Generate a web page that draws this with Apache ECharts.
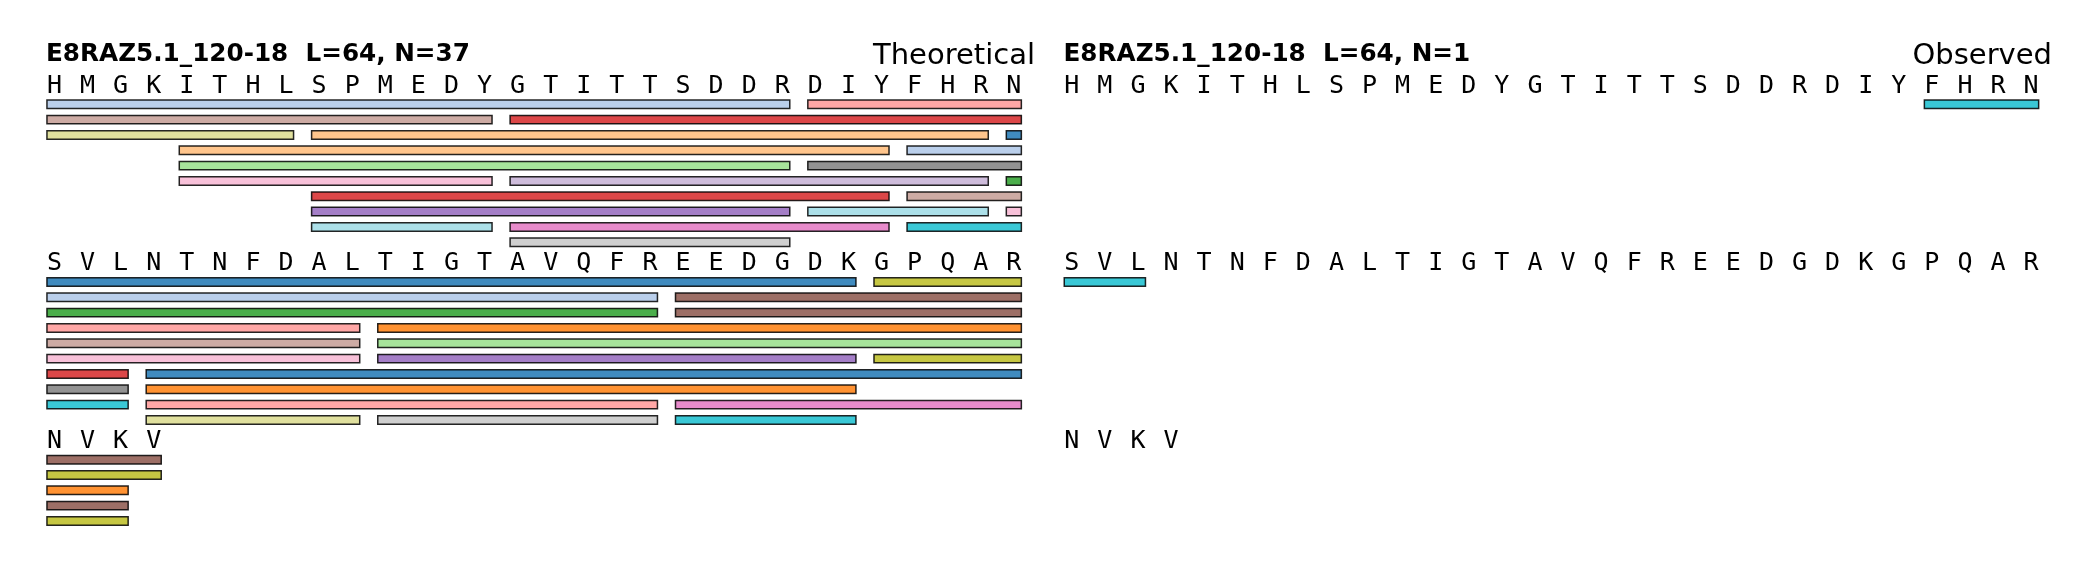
<!DOCTYPE html>
<html><head><meta charset="utf-8">
<script src="https://cdn.jsdelivr.net/npm/echarts@6/dist/echarts.min.js"></script>
<style>html,body{margin:0;padding:0;background:#fff}#c{width:2100px;height:584px}</style>
</head><body><div id="c"></div>
<script>
// ---------------- data ----------------
const proteinId = "E8RAZ5.1_120-18";
const sequence = "HMGKITHLSPMEDYGTITTSDDRDIYFHRNSVLNTNFDALTIGTAVQFREEDGDKGPQARNVKV".split('');
const lineLength = 30;
const panelTitles = ["Theoretical", "Observed"];
const peptideCounts = [37, 1];

// segments: [line, row, firstResidueInLine, lastResidueInLine]
const theoSegments = [
  [0,0,0,22],[0,0,23,29],
  [0,1,0,13],[0,1,14,29],
  [0,2,0,7],[0,2,8,28],[0,2,29,29],
  [0,3,4,25],[0,3,26,29],
  [0,4,4,22],[0,4,23,29],
  [0,5,4,13],[0,5,14,28],[0,5,29,29],
  [0,6,8,25],[0,6,26,29],
  [0,7,8,22],[0,7,23,28],[0,7,29,29],
  [0,8,8,13],[0,8,14,25],[0,8,26,29],
  [0,9,14,22],
  [1,0,0,24],[1,0,25,29],
  [1,1,0,18],[1,1,19,29],
  [1,2,0,18],[1,2,19,29],
  [1,3,0,9],[1,3,10,29],
  [1,4,0,9],[1,4,10,29],
  [1,5,0,9],[1,5,10,24],[1,5,25,29],
  [1,6,0,2],[1,6,3,29],
  [1,7,0,2],[1,7,3,24],
  [1,8,0,2],[1,8,3,18],[1,8,19,29],
  [1,9,3,9],[1,9,10,18],[1,9,19,24],
  [2,0,0,3],[2,1,0,3],[2,2,0,2],[2,3,0,2],[2,4,0,2]
];
const theoColors = [
  'lightblue','salmon',
  'tan','red',
  'khaki','peach','blue',
  'peach','lightblue',
  'lightgreen','gray',
  'lightpink','lavender','green',
  'red','tan',
  'purple','lightcyan','lightpink',
  'lightcyan','pink','cyan',
  'lightgray',
  'blue','olive',
  'lightblue','brown',
  'green','brown',
  'salmon','orange',
  'tan','lightgreen',
  'lightpink','purple','olive',
  'red','blue',
  'gray','orange',
  'cyan','salmon','pink',
  'khaki','lightgray','cyan',
  'brown','olive','orange','brown','olive'
];
const obsSegments = [[0,0,26,29],[1,0,0,2]];
const obsColors = ['cyan','cyan'];

// ---------------- style ----------------
const palette = {
  blue:'#1f77b4', lightblue:'#aec7e8', orange:'#ff7f0e', peach:'#ffbb78',
  green:'#2ca02c', lightgreen:'#98df8a', red:'#d62728', salmon:'#ff9896',
  purple:'#9467bd', lavender:'#c5b0d5', brown:'#8c564b', tan:'#c49c94',
  pink:'#e377c2', lightpink:'#f7b6d2', gray:'#7f7f7f', lightgray:'#c7c7c7',
  olive:'#bcbd22', khaki:'#dbdb8d', cyan:'#17becf', lightcyan:'#9edae5'
};
const LINE_STEP = 11.59;   // rows per sequence line block
const LETTER_OFFSET = -1.18;
const BAR_H = 0.65;
const LW = 1.5;

const letterData = sequence.map((ch, i) => {
  const line = Math.floor(i / lineLength), pos = i % lineLength;
  return { value: [2 * pos + 0.5, line * LINE_STEP + LETTER_OFFSET], name: ch };
});
function segData(segs, cols) {
  return segs.map((s, k) => ({
    value: [2 * s[2], 2 * s[3] + 1, s[0] * LINE_STEP + s[1]],
    itemStyle: { color: palette[cols[k]] }
  }));
}
function renderBar(params, api) {
  const y = api.value(2);
  const p0 = api.coord([api.value(0), y]);
  const p1 = api.coord([api.value(1), y]);
  const h = api.size([0, BAR_H])[1];
  return {
    type: 'rect',
    shape: { x: p0[0] + LW / 2, y: p0[1] - h / 2 + LW / 2, width: p1[0] - p0[0] - LW, height: h - LW },
    style: { fill: api.visual('color'), stroke: '#000', lineWidth: LW, opacity: 0.85 }
  };
}
function renderLetter(params, api) {
  const p = api.coord([api.value(0), api.value(1)]);
  return {
    type: 'text',
    style: { text: sequence[params.dataIndex], x: p[0], y: p[1], align: 'center', verticalAlign: 'middle',
      font: '25px "DejaVu Sans Mono"', fill: '#000' }
  };
}

const gridW = 975.9;
const grids = [
  { left: 46.2, top: 58.3, width: gridW, height: 505.9 },
  { left: 1063.5, top: 58.3, width: gridW, height: 505.9 }
];
const chart = echarts.init(document.getElementById('c'), null, { renderer: 'canvas' });
chart.setOption({
  backgroundColor: '#fff',
  animation: false,
  title: [
    { text: proteinId + '  L=' + sequence.length + ', N=' + peptideCounts[0], left: 46, top: 42.5, padding: 0,
      textStyle: { fontFamily: 'DejaVu Sans', fontWeight: 'bold', fontSize: 24.7, color: '#000' } },
    { text: panelTitles[0], right: 2100 - 1035, top: 42, padding: 0,
      textStyle: { fontFamily: 'DejaVu Sans', fontWeight: 'normal', fontSize: 29, color: '#000' } },
    { text: proteinId + '  L=' + sequence.length + ', N=' + peptideCounts[1], left: 1063.5, top: 42.5, padding: 0,
      textStyle: { fontFamily: 'DejaVu Sans', fontWeight: 'bold', fontSize: 24.7, color: '#000' } },
    { text: panelTitles[1], right: 2100 - 2052, top: 42, padding: 0,
      textStyle: { fontFamily: 'DejaVu Sans', fontWeight: 'normal', fontSize: 29, color: '#000' } }
  ],
  grid: grids,
  xAxis: [0, 1].map(i => ({ type: 'value', gridIndex: i, min: 0, max: 2 * lineLength - 1, show: false })),
  yAxis: [0, 1].map(i => ({ type: 'value', gridIndex: i, min: -3, max: 30, inverse: true, show: false })),
  series: [
    { type: 'custom', xAxisIndex: 0, yAxisIndex: 0, renderItem: renderLetter, data: letterData, silent: true },
    { type: 'custom', xAxisIndex: 1, yAxisIndex: 1, renderItem: renderLetter, data: letterData, silent: true },
    { type: 'custom', xAxisIndex: 0, yAxisIndex: 0, renderItem: renderBar, data: segData(theoSegments, theoColors) },
    { type: 'custom', xAxisIndex: 1, yAxisIndex: 1, renderItem: renderBar, data: segData(obsSegments, obsColors) }
  ]
});
</script></body></html>
